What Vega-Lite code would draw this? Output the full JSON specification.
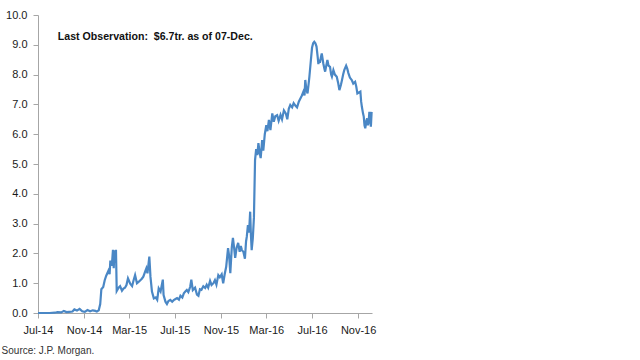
{
  "$schema": "https://vega.github.io/schema/vega-lite/v6.json",
  "width": 334,
  "height": 298,
  "autosize": {"type": "none"},
  "padding": {"left": 38, "top": 15, "right": 268, "bottom": 47},
  "background": "white",
  "config": {
    "view": {"stroke": null},
    "font": "Liberation Sans",
    "axis": {"labelFont": "Liberation Sans", "labelFontSize": 11, "labelColor": "#1a1a1a", "domainColor": "#a6a6a6", "tickColor": "#a6a6a6", "grid": false, "title": null, "tickSize": 5, "labelOverlap": false, "labelFlush": false}
  },
  "title": {"text": "Source: J.P. Morgan.", "orient": "bottom", "anchor": "start", "fontSize": 10, "fontWeight": "normal", "color": "#333", "dx": -4, "offset": 11, "font": "Liberation Sans"},
  "encoding": {
    "x": {
      "field": "date", "type": "temporal",
      "scale": {"type": "utc", "domain": [{"year": 2014, "month": 7, "date": 1, "utc": true}, {"year": 2016, "month": 12, "date": 8, "utc": true}]},
      "axis": {
        "labelExpr": "utcFormat(datum.value, '%b-%y')", "labelPadding": 6, "labelFlush": false, "labelAlign": "center",
        "values": [
          {"year": 2014, "month": 7, "date": 1, "utc": true},
          {"year": 2014, "month": 11, "date": 1, "utc": true},
          {"year": 2015, "month": 3, "date": 1, "utc": true},
          {"year": 2015, "month": 7, "date": 1, "utc": true},
          {"year": 2015, "month": 11, "date": 1, "utc": true},
          {"year": 2016, "month": 3, "date": 1, "utc": true},
          {"year": 2016, "month": 7, "date": 1, "utc": true},
          {"year": 2016, "month": 11, "date": 1, "utc": true}
        ]
      }
    },
    "y": {
      "field": "v", "type": "quantitative",
      "scale": {"domain": [0, 10], "nice": false, "zero": true},
      "axis": {"values": [0, 1, 2, 3, 4, 5, 6, 7, 8, 9, 10], "format": ".1f", "labelPadding": 6}
    }
  },
  "layer": [
    {
      "data": {"values": [
        {"date":"2014-07-01","v":0.0},{"date":"2014-07-15","v":0.0},{"date":"2014-08-01","v":0.0},{"date":"2014-08-15","v":0.01},
        {"date":"2014-08-22","v":0.03},{"date":"2014-09-01","v":0.02},{"date":"2014-09-08","v":0.07},{"date":"2014-09-15","v":0.03},
        {"date":"2014-09-22","v":0.04},{"date":"2014-10-01","v":0.05},{"date":"2014-10-06","v":0.12},{"date":"2014-10-13","v":0.08},
        {"date":"2014-10-20","v":0.14},{"date":"2014-10-27","v":0.06},{"date":"2014-11-03","v":0.04},{"date":"2014-11-10","v":0.1},
        {"date":"2014-11-17","v":0.06},{"date":"2014-11-24","v":0.09},{"date":"2014-12-01","v":0.07},{"date":"2014-12-05","v":0.05},
        {"date":"2014-12-10","v":0.09},{"date":"2014-12-14","v":0.3},{"date":"2014-12-17","v":0.8},{"date":"2014-12-22","v":0.87},
        {"date":"2014-12-26","v":1.1},{"date":"2014-12-30","v":1.25},{"date":"2015-01-05","v":1.42},{"date":"2015-01-08","v":1.3},
        {"date":"2015-01-10","v":1.76},{"date":"2015-01-14","v":1.59},{"date":"2015-01-17","v":2.12},{"date":"2015-01-19","v":1.5},
        {"date":"2015-01-21","v":2.1},{"date":"2015-01-23","v":1.7},{"date":"2015-01-25","v":2.12},{"date":"2015-01-27","v":0.74},
        {"date":"2015-02-01","v":0.85},{"date":"2015-02-05","v":0.9},{"date":"2015-02-10","v":0.75},{"date":"2015-02-14","v":0.82},
        {"date":"2015-02-18","v":0.85},{"date":"2015-02-22","v":0.94},{"date":"2015-02-26","v":1.16},{"date":"2015-03-04","v":0.98},
        {"date":"2015-03-09","v":0.9},{"date":"2015-03-13","v":1.1},{"date":"2015-03-17","v":1.27},{"date":"2015-03-22","v":1.0},
        {"date":"2015-03-27","v":1.05},{"date":"2015-03-31","v":1.1},{"date":"2015-04-04","v":1.15},{"date":"2015-04-08","v":1.22},
        {"date":"2015-04-13","v":1.4},{"date":"2015-04-16","v":1.5},{"date":"2015-04-19","v":1.33},{"date":"2015-04-24","v":1.89},
        {"date":"2015-04-27","v":1.22},{"date":"2015-05-01","v":0.72},{"date":"2015-05-06","v":0.49},{"date":"2015-05-11","v":0.52},
        {"date":"2015-05-15","v":0.44},{"date":"2015-05-19","v":0.83},{"date":"2015-05-24","v":0.72},{"date":"2015-05-30","v":1.12},
        {"date":"2015-06-01","v":0.6},{"date":"2015-06-06","v":0.38},{"date":"2015-06-10","v":0.3},{"date":"2015-06-14","v":0.4},
        {"date":"2015-06-19","v":0.44},{"date":"2015-06-24","v":0.38},{"date":"2015-06-28","v":0.43},{"date":"2015-07-03","v":0.47},
        {"date":"2015-07-07","v":0.5},{"date":"2015-07-12","v":0.45},{"date":"2015-07-16","v":0.58},{"date":"2015-07-21","v":0.52},
        {"date":"2015-07-25","v":0.66},{"date":"2015-07-29","v":0.72},{"date":"2015-08-02","v":0.77},{"date":"2015-08-06","v":0.7},
        {"date":"2015-08-11","v":0.88},{"date":"2015-08-14","v":1.12},{"date":"2015-08-18","v":0.77},{"date":"2015-08-24","v":0.85},
        {"date":"2015-08-29","v":0.62},{"date":"2015-09-02","v":0.58},{"date":"2015-09-06","v":0.8},{"date":"2015-09-10","v":0.78},
        {"date":"2015-09-15","v":0.9},{"date":"2015-09-20","v":0.84},{"date":"2015-09-24","v":0.95},{"date":"2015-09-28","v":0.85},
        {"date":"2015-10-03","v":1.08},{"date":"2015-10-07","v":0.94},{"date":"2015-10-12","v":1.0},{"date":"2015-10-16","v":1.1},
        {"date":"2015-10-20","v":0.95},{"date":"2015-10-25","v":1.27},{"date":"2015-10-29","v":1.2},{"date":"2015-11-03","v":1.3},
        {"date":"2015-11-07","v":1.0},{"date":"2015-11-11","v":1.3},{"date":"2015-11-15","v":1.55},{"date":"2015-11-20","v":2.18},
        {"date":"2015-11-23","v":1.9},{"date":"2015-11-26","v":1.34},{"date":"2015-11-30","v":2.2},{"date":"2015-12-03","v":2.52},
        {"date":"2015-12-06","v":2.2},{"date":"2015-12-09","v":1.85},{"date":"2015-12-13","v":2.2},{"date":"2015-12-17","v":2.35},
        {"date":"2015-12-21","v":2.05},{"date":"2015-12-24","v":2.25},{"date":"2015-12-27","v":2.11},{"date":"2015-12-31","v":2.05},
        {"date":"2016-01-04","v":1.82},{"date":"2016-01-07","v":2.4},{"date":"2016-01-09","v":2.56},{"date":"2016-01-12","v":2.95},
        {"date":"2016-01-15","v":2.7},{"date":"2016-01-18","v":3.4},{"date":"2016-01-20","v":2.62},{"date":"2016-01-22","v":2.11},
        {"date":"2016-01-25","v":2.5},{"date":"2016-01-28","v":3.2},{"date":"2016-01-31","v":5.13},{"date":"2016-02-03","v":5.5},
        {"date":"2016-02-06","v":5.3},{"date":"2016-02-09","v":5.7},{"date":"2016-02-12","v":5.4},{"date":"2016-02-15","v":5.2},
        {"date":"2016-02-19","v":5.8},{"date":"2016-02-22","v":5.45},{"date":"2016-02-26","v":6.0},{"date":"2016-03-01","v":6.3},
        {"date":"2016-03-04","v":6.1},{"date":"2016-03-08","v":6.48},{"date":"2016-03-12","v":6.14},{"date":"2016-03-17","v":6.7},
        {"date":"2016-03-21","v":6.42},{"date":"2016-03-25","v":6.6},{"date":"2016-03-30","v":6.64},{"date":"2016-04-03","v":6.45},
        {"date":"2016-04-08","v":6.65},{"date":"2016-04-12","v":6.5},{"date":"2016-04-17","v":6.8},{"date":"2016-04-22","v":6.7},
        {"date":"2016-04-26","v":6.5},{"date":"2016-04-30","v":6.85},{"date":"2016-05-04","v":6.98},{"date":"2016-05-09","v":6.9},
        {"date":"2016-05-13","v":7.04},{"date":"2016-05-18","v":6.95},{"date":"2016-05-22","v":6.9},{"date":"2016-05-27","v":7.1},
        {"date":"2016-05-31","v":7.2},{"date":"2016-06-04","v":7.3},{"date":"2016-06-08","v":7.43},{"date":"2016-06-11","v":7.3},
        {"date":"2016-06-13","v":7.82},{"date":"2016-06-16","v":7.5},{"date":"2016-06-19","v":7.37},{"date":"2016-06-22","v":7.7},
        {"date":"2016-06-24","v":7.93},{"date":"2016-06-28","v":8.49},{"date":"2016-07-01","v":8.9},{"date":"2016-07-04","v":9.05},
        {"date":"2016-07-07","v":9.1},{"date":"2016-07-10","v":9.05},{"date":"2016-07-13","v":8.94},{"date":"2016-07-16","v":8.6},
        {"date":"2016-07-18","v":8.35},{"date":"2016-07-20","v":8.5},{"date":"2016-07-22","v":8.4},{"date":"2016-07-25","v":8.6},
        {"date":"2016-07-27","v":8.71},{"date":"2016-07-31","v":8.38},{"date":"2016-08-03","v":8.2},{"date":"2016-08-05","v":8.1},
        {"date":"2016-08-08","v":8.3},{"date":"2016-08-11","v":8.49},{"date":"2016-08-14","v":8.3},{"date":"2016-08-18","v":8.26},
        {"date":"2016-08-21","v":8.0},{"date":"2016-08-23","v":7.93},{"date":"2016-08-27","v":8.15},{"date":"2016-08-31","v":8.0},
        {"date":"2016-09-05","v":7.93},{"date":"2016-09-09","v":7.7},{"date":"2016-09-12","v":7.48},{"date":"2016-09-16","v":7.65},
        {"date":"2016-09-19","v":7.82},{"date":"2016-09-22","v":8.0},{"date":"2016-09-25","v":8.15},{"date":"2016-09-30","v":8.3},
        {"date":"2016-10-03","v":8.2},{"date":"2016-10-06","v":8.05},{"date":"2016-10-10","v":7.9},{"date":"2016-10-15","v":7.82},
        {"date":"2016-10-19","v":7.7},{"date":"2016-10-24","v":7.76},{"date":"2016-10-27","v":7.6},{"date":"2016-10-30","v":7.37},
        {"date":"2016-11-03","v":7.4},{"date":"2016-11-07","v":7.43},{"date":"2016-11-09","v":7.1},{"date":"2016-11-11","v":6.92},
        {"date":"2016-11-14","v":6.7},{"date":"2016-11-16","v":6.59},{"date":"2016-11-18","v":6.3},{"date":"2016-11-20","v":6.2},
        {"date":"2016-11-23","v":6.45},{"date":"2016-11-25","v":6.53},{"date":"2016-11-27","v":6.3},{"date":"2016-11-29","v":6.42},
        {"date":"2016-12-01","v":6.75},{"date":"2016-12-03","v":6.5},{"date":"2016-12-05","v":6.25},{"date":"2016-12-07","v":6.75}
      ]},
      "mark": {"type": "line", "color": "#4a87c5", "strokeWidth": 2.2, "interpolate": "linear"}
    },
    {
      "data": {"values": [{"date": "2014-08-23", "v": 9.26, "label": "Last Observation:\u00a0\u00a0$6.7tr. as of 07-Dec."}]},
      "mark": {"type": "text", "align": "left", "baseline": "middle", "fontSize": 10.6, "fontWeight": "bold", "color": "#111", "font": "Liberation Sans"},
      "encoding": {
        "text": {"field": "label"}
      }
    }
  ]
}
